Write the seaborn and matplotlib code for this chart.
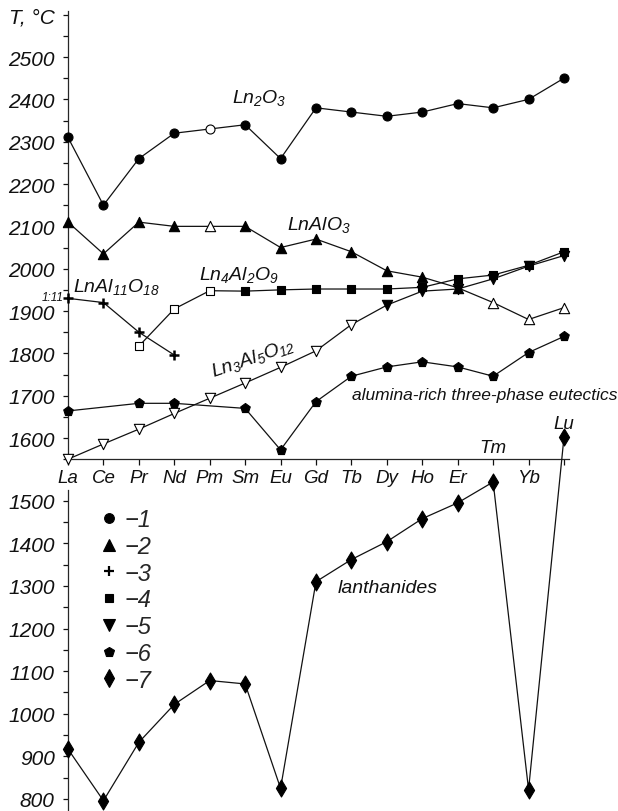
import numpy as np
import pandas as pd
import matplotlib
matplotlib.use("Agg")
import matplotlib.pyplot as plt
from matplotlib.lines import Line2D
from matplotlib.ticker import FixedLocator
import seaborn as sns

# ---------------------------------------------------------------- data
LANTHANIDES = ["La", "Ce", "Pr", "Nd", "Pm", "Sm", "Eu", "Gd",
               "Tb", "Dy", "Ho", "Er", "Tm", "Yb", "Lu"]

# 1 - Ln2O3
LN2O3 = [2310, 2150, 2260, 2320, 2330, 2340, 2260, 2380,
         2370, 2360, 2370, 2390, 2380, 2400, 2450]
LN2O3_OPEN = ["Pm"]

# 2 - LnAlO3
LNALO3 = [2110, 2035, 2110, 2100, 2100, 2100, 2050, 2070,
          2040, 1995, 1980, 1955, 1920, 1880, 1908]
LNALO3_OPEN = ["Pm", "Tm", "Yb", "Lu"]

# 3 - LnAl11O18
LNAL11O18_ELEMENTS = ["La", "Ce", "Pr", "Nd"]
LNAL11O18 = [1930, 1920, 1850, 1796]

# 4 - Ln4Al2O9
LN4AL2O9_ELEMENTS = ["Pr", "Nd", "Pm", "Sm", "Eu", "Gd", "Tb",
                     "Dy", "Ho", "Er", "Tm", "Yb", "Lu"]
LN4AL2O9 = [1817, 1905, 1948, 1947, 1950, 1952, 1952,
            1952, 1956, 1976, 1985, 2008, 2040]
LN4AL2O9_OPEN = ["Pr", "Nd", "Pm"]

# 5 - Ln3Al5O12
LN3AL5O12 = [1550, 1586, 1621, 1658, 1694, 1730, 1767, 1806,
             1868, 1914, 1947, 1952, 1976, 2006, 2031]
LN3AL5O12_OPEN = ["La", "Ce", "Pr", "Nd", "Pm", "Sm", "Eu", "Gd", "Tb"]

# 6 - alumina-rich three-phase eutectics
EUTECTIC_ELEMENTS = ["La", "Pr", "Nd", "Sm", "Eu", "Gd", "Tb",
                     "Dy", "Ho", "Er", "Tm", "Yb", "Lu"]
EUTECTIC = [1664, 1682, 1682, 1670, 1572, 1686, 1746,
            1768, 1780, 1768, 1746, 1802, 1840]

# 7 - lanthanide metals
LN_METAL = [917, 796, 933, 1022, 1078, 1070, 825, 1310,
            1362, 1404, 1458, 1495, 1544, 822, 1649]

UPPER_TICKS = list(range(1600, 2601, 100))
UPPER_TICK_LABELS = [str(t) for t in UPPER_TICKS[:-1]] + ["T, °C"]
LOWER_TICKS = list(range(800, 1501, 100))
LEGEND_LABELS = ["−1", "−2", "−3", "−4", "−5", "−6", "−7"]

# ---------------------------------------------------------------- style
sns.set_style("ticks")
plt.rcParams.update({
    "font.family": ["Liberation Sans", "DejaVu Sans"],
    "font.style": "italic",
    "mathtext.fontset": "custom",
    "mathtext.it": "Liberation Sans:italic",
    "mathtext.rm": "Liberation Sans:italic",
    "mathtext.default": "it",
    "axes.linewidth": 0.9,
})

INK = "#111111"
IDX = {name: i for i, name in enumerate(LANTHANIDES)}

W, H = 618, 812
fig = plt.figure(figsize=(W / 100, H / 100), dpi=100)

X_MAX = 14.15
UP_LIM = (1550, 2608)
LOW_LIM = (771.8, 1691.8)
ax1 = fig.add_axes([68 / W, (H - 460.2) / H, 501.3 / W, 447.9 / H])
ax2 = fig.add_axes([68 / W, 0.0, 501.3 / W, 392 / H])
ax2.patch.set_visible(False)


def draw_series(ax, elements, values, marker, size, open_elems=(), lw=0.8):
    df = pd.DataFrame({"x": [IDX[e] for e in elements], "T": values,
                       "open": [e in open_elems for e in elements]})
    sns.lineplot(data=df, x="x", y="T", ax=ax, color=INK, linewidth=0.9,
                 estimator=None, sort=False, zorder=2)
    for is_open, face in ((False, "black"), (True, "white")):
        sub = df[df["open"] == is_open]
        if sub.empty:
            continue
        sns.scatterplot(data=sub, x="x", y="T", ax=ax, marker=marker, s=size,
                        color=face, edgecolor="black", linewidth=lw,
                        zorder=3, clip_on=False, legend=False)


draw_series(ax1, LANTHANIDES, LN2O3, "o", 42, LN2O3_OPEN)
draw_series(ax1, LANTHANIDES, LNALO3, "^", 55, LNALO3_OPEN)
draw_series(ax1, LNAL11O18_ELEMENTS, LNAL11O18, "+", 55, lw=1.8)
draw_series(ax1, LN4AL2O9_ELEMENTS, LN4AL2O9, "s", 32, LN4AL2O9_OPEN)
draw_series(ax1, LANTHANIDES, LN3AL5O12, "v", 55, LN3AL5O12_OPEN)
draw_series(ax1, EUTECTIC_ELEMENTS, EUTECTIC, "p", 52)
draw_series(ax2, LANTHANIDES, LN_METAL, "d", 75)

# ---------------------------------------------------------------- upper axes
ax1.set_xlim(0, X_MAX)
ax1.set_ylim(*UP_LIM)
sns.despine(ax=ax1, top=True, right=True)
ax1.set_xticks(range(len(LANTHANIDES)))
ax1.set_xticklabels(["" if n in ("Tm", "Lu") else n for n in LANTHANIDES])
ax1.yaxis.set_major_locator(FixedLocator(UPPER_TICKS))
ax1.set_yticklabels(UPPER_TICK_LABELS)
ax1.yaxis.set_minor_locator(FixedLocator(list(range(1550, 2601, 50))))
ax1.tick_params(axis="x", direction="out", length=4, width=0.9,
                labelsize=13.5, pad=3, colors=INK)
ax1.tick_params(axis="y", which="both", direction="out", length=3.5,
                width=0.9, labelsize=15, pad=6, colors=INK)
ax1.set_xlabel("")
ax1.set_ylabel("")

for name, yv in (("Tm", 1567), ("Lu", 1624)):
    ax1.text(IDX[name], yv, name, ha="center", va="baseline",
             fontsize=13.5, color=INK)

ax1.text(4.63, 2394, r"$Ln_2O_3$", fontsize=14, ha="left", va="baseline", color=INK)
ax1.text(6.18, 2094, r"$LnAlO_3$", fontsize=14, ha="left", va="baseline", color=INK)
ax1.text(0.14, 1947, r"$LnAl_{11}O_{18}$", fontsize=14, ha="left", va="baseline", color=INK)
ax1.text(-0.12, 1925, "1:11", fontsize=8.5, ha="right", va="baseline", color=INK)
ax1.text(3.70, 1976, r"$Ln_4Al_2O_9$", fontsize=14, ha="left", va="baseline", color=INK)
ax1.text(4.09, 1746, r"$Ln_3Al_5O_{12}$", fontsize=14, ha="left", va="baseline",
         rotation=19, rotation_mode="anchor", color=INK)
ax1.text(8.02, 1692, "alumina-rich three-phase eutectics", fontsize=12.5,
         ha="left", va="baseline", color=INK)

# ---------------------------------------------------------------- lower axes
ax2.set_xlim(0, X_MAX)
ax2.set_ylim(*LOW_LIM)
for side in ("top", "right", "bottom"):
    ax2.spines[side].set_visible(False)
ax2.spines["left"].set_bounds(LOW_LIM[0], 1525)
ax2.set_xticks([])
ax2.yaxis.set_major_locator(FixedLocator(LOWER_TICKS))
ax2.set_yticklabels([str(t) for t in LOWER_TICKS])
ax2.yaxis.set_minor_locator(FixedLocator(list(range(800, 1501, 50))))
ax2.tick_params(axis="y", which="both", direction="out", length=3.5,
                width=0.9, labelsize=15, pad=6, colors=INK)
ax2.set_xlabel("")
ax2.set_ylabel("")

ax2.text(7.62, 1286, "lanthanides", fontsize=14, ha="left", va="baseline", color=INK)

legend_markers = [("o", 7.0), ("^", 8.0), ("+", 7.5), ("s", 6.0),
                  ("v", 8.0), ("p", 7.5), ("d", 9.0)]
handles = [Line2D([0], [0], marker=m, markersize=ms, color="black",
                  markerfacecolor="black", markeredgewidth=1.6 if m == "+" else 0.8,
                  linestyle="none") for m, ms in legend_markers]
ax2.legend(handles, LEGEND_LABELS, loc="upper left",
           bbox_to_anchor=(101 / W, (H - 509) / H), bbox_transform=fig.transFigure,
           frameon=False, fontsize=17, handlelength=0.7, handletextpad=0.3,
           labelspacing=0.16, borderpad=0, borderaxespad=0)

fig.savefig("out.png", dpi=100)
